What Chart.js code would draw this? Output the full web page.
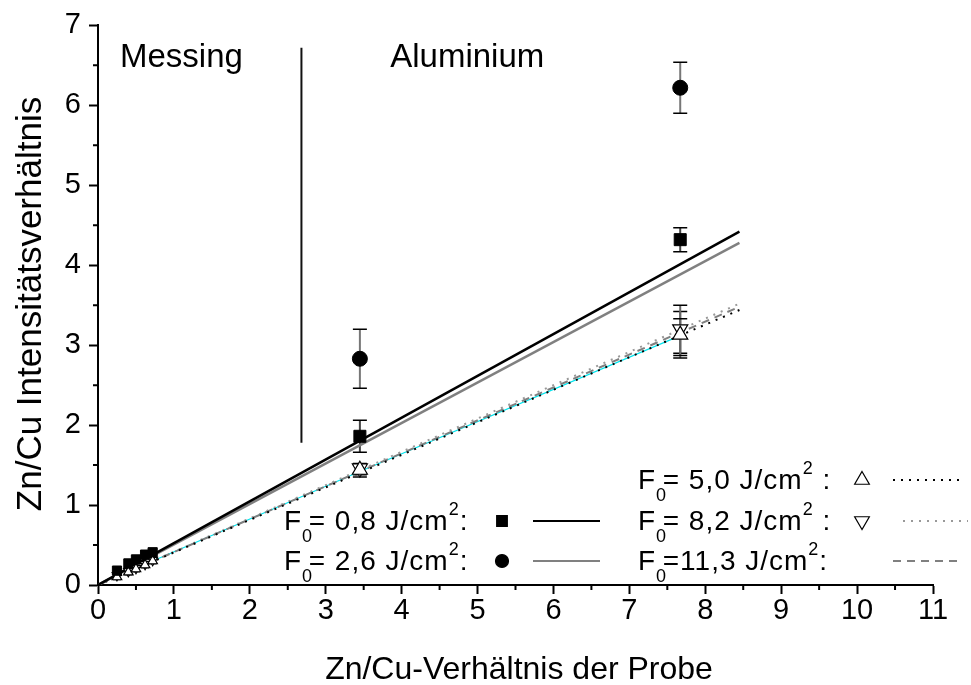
<!DOCTYPE html>
<html>
<head>
<meta charset="utf-8">
<script src="https://cdn.jsdelivr.net/npm/chart.js@4"></script>
<style>
  body { margin: 0; background: #fff; }
  canvas { display: block; }
</style>
</head>
<body>
<canvas id="chart" width="971" height="685"></canvas>
<script>
const FONT = '"Liberation Sans", Arial, sans-serif';

// sample Zn/Cu ratio: five Messing samples, two Aluminium samples
const sampleX = [0.25, 0.40, 0.50, 0.62, 0.72, 3.45, 7.67];

// measured intensity ratio per fluence, with errors
const f08Y   = [0.18, 0.27, 0.32, 0.38, 0.41, 1.86, 4.32];
const f08Err = [0.04, 0.04, 0.04, 0.04, 0.04, 0.20, 0.15];
const f26Y   = [0.17, 0.26, 0.31, 0.37, 0.40, 2.83, 6.22];
const f26Err = [0.04, 0.04, 0.04, 0.04, 0.04, 0.37, 0.32];
const f50Y   = [0.10, 0.16, 0.20, 0.25, 0.30, 1.44, 3.13];
const f50Err = [0.03, 0.03, 0.03, 0.03, 0.03, 0.06, 0.29];
const f82Y   = [0.12, 0.17, 0.21, 0.26, 0.31, 1.46, 3.20];
const f82Err = [0.03, 0.03, 0.03, 0.03, 0.03, 0.06, 0.30];
const f113Y  = [0.11, 0.16, 0.20, 0.25, 0.30, 1.43, 3.10];
const f113Err= [0.03, 0.03, 0.03, 0.03, 0.03, 0.08, 0.23];

// linear fits through the origin (end points)
const fitX   = [0, 8.45];
const fit08  = [0, 4.42];
const fit26  = [0, 4.28];
const fit50  = [0, 3.44];
const fit82  = [0, 3.52];
const fit113 = [0, 3.48];

// connecting line of the 5,0 J/cm² points
const cyanX = [0.72, 3.45, 7.67];
const cyanY = [0.30, 1.42, 3.12];

// separator between Messing and Aluminium
const sepX = [2.68, 2.68];
const sepY = [1.78, 6.72];

const xTicks = [0, 1, 2, 3, 4, 5, 6, 7, 8, 9, 10, 11];
const yTicks = [0, 1, 2, 3, 4, 5, 6, 7];

const pts = (xs, ys) => xs.map((x, i) => ({ x: x, y: ys[i] }));
const small = (big, sm) => sampleX.map(x => x < 1 ? sm : big);

const errorBars = {
  id: 'errorBars',
  beforeDatasetsDraw(chart) {
    const { ctx, scales: { x, y } } = chart;
    chart.data.datasets.forEach(ds => {
      if (!ds.errors) return;
      ds.data.forEach((p, i) => {
        const e = ds.errors[i];
        const px = x.getPixelForValue(p.x);
        const top = y.getPixelForValue(p.y + e);
        const bot = y.getPixelForValue(p.y - e);
        const w = p.x < 1 ? 4 : 7;
        ctx.save();
        ctx.strokeStyle = ds.errorColor;
        ctx.lineWidth = 2;
        ctx.beginPath();
        ctx.moveTo(px, top);
        ctx.lineTo(px, bot);
        ctx.stroke();
        ctx.strokeStyle = '#000';
        ctx.lineWidth = 1.5;
        ctx.beginPath();
        ctx.moveTo(px - w, top); ctx.lineTo(px + w, top);
        ctx.moveTo(px - w, bot); ctx.lineTo(px + w, bot);
        ctx.stroke();
        ctx.restore();
      });
    });
  }
};

function richText(ctx, x, y, parts, size) {
  parts.forEach(p => {
    const s = (p.sub || p.sup) ? Math.round(size * 0.63) : size;
    ctx.font = s + 'px ' + FONT;
    const dy = p.sub ? size * 0.42 : p.sup ? -size * 0.55 : 0;
    ctx.fillText(p.t, x, y + dy);
    const w = ctx.measureText(p.t).width;
    x += p.sub ? w * 0.6 : w;
  });
}

const legendRows = [
  { col: 0, row: 1, label: '= 0,8 J/cm', tail: ':', point: 'rect', rot: 0, radius: 7.5, dash: [], color: '#000' },
  { col: 0, row: 2, label: '= 2,6 J/cm', tail: ':', point: 'circle', rot: 0, radius: 6.5, dash: [], color: '#808080' },
  { col: 1, row: 0, label: '= 5,0 J/cm', tail: ' :', point: 'triangle', rot: 0, radius: 8.5, dash: [2, 6], color: '#000' },
  { col: 1, row: 1, label: '= 8,2 J/cm', tail: ' :', point: 'triangle', rot: 180, radius: 8.5, dash: [2, 6], color: '#999' },
  { col: 1, row: 2, label: '=11,3 J/cm', tail: ':', point: null, rot: 0, radius: 0, dash: [8, 6], color: '#808080' }
];

const annotations = {
  id: 'annotations',
  afterDraw(chart) {
    const { ctx, scales: { x, y } } = chart;
    ctx.save();
    ctx.fillStyle = '#000';
    ctx.strokeStyle = '#000';

    // minor ticks
    ctx.lineWidth = 2;
    ctx.beginPath();
    for (let v = 0.5; v < 11; v += 1) {
      const px = x.getPixelForValue(v);
      ctx.moveTo(px, y.bottom); ctx.lineTo(px, y.bottom + 5);
    }
    for (let v = 0.5; v < 7; v += 1) {
      const py = y.getPixelForValue(v);
      ctx.moveTo(x.left, py); ctx.lineTo(x.left - 5, py);
    }
    ctx.stroke();

    // axis titles
    ctx.textAlign = 'center';
    ctx.textBaseline = 'alphabetic';
    ctx.font = '32px ' + FONT;
    ctx.fillText('Zn/Cu-Verhältnis der Probe', 519, 679);
    ctx.save();
    ctx.translate(41, 304);
    ctx.rotate(-Math.PI / 2);
    ctx.font = '35px ' + FONT;
    ctx.fillText('Zn/Cu Intensitätsverhältnis', 0, 0);
    ctx.restore();

    // region labels
    ctx.textAlign = 'left';
    ctx.font = '33px ' + FONT;
    ctx.fillText('Messing', x.getPixelForValue(0.29), y.getPixelForValue(6.48));
    ctx.fillText('Aluminium', x.getPixelForValue(3.85), y.getPixelForValue(6.48));

    // legend
    const colX = [284, 638];
    const rowY = [489, 530, 570];
    const mkX = [502, 862];
    const lnX = [[533, 600], [893, 962]];
    ctx.letterSpacing = '1px';
    legendRows.forEach(r => {
      const tx = colX[r.col], ty = rowY[r.row];
      ctx.fillStyle = '#000';
      richText(ctx, tx, ty, [{ t: 'F' }, { t: '0', sub: true }, { t: r.label }, { t: '2', sup: true }, { t: r.tail }], 28);
      const my = ty - 9;
      if (r.point) {
        ctx.fillStyle = r.point === 'triangle' ? '#fff' : '#000';
        ctx.strokeStyle = '#000';
        ctx.lineWidth = 1.2;
        Chart.helpers.drawPoint(ctx, { pointStyle: r.point, rotation: r.rot, radius: r.radius, borderWidth: 1.2 }, mkX[r.col], my);
      }
      ctx.strokeStyle = r.color;
      ctx.lineWidth = 2;
      ctx.setLineDash(r.dash);
      ctx.beginPath();
      const lx = (r.col === 1 && r.row === 1) ? [903, 968] : lnX[r.col];
      ctx.moveTo(lx[0], my); ctx.lineTo(lx[1], my);
      ctx.stroke();
      ctx.setLineDash([]);
    });
    ctx.restore();
  }
};

const lineDs = (xs, ys, color, dash, width) => ({
  data: pts(xs, ys), showLine: true, borderColor: color, borderDash: dash,
  borderWidth: width, pointRadius: 0, fill: false
});

new Chart(document.getElementById('chart'), {
  type: 'scatter',
  data: {
    datasets: [
      { data: pts(sampleX, f08Y), errors: f08Err, errorColor: '#444',
        pointStyle: 'rect', pointRadius: small(8.5, 6.5), backgroundColor: '#000', borderColor: '#000' },
      { data: pts(sampleX, f26Y), errors: f26Err, errorColor: '#777',
        pointStyle: 'circle', pointRadius: small(7.5, 3.5), backgroundColor: '#000', borderColor: '#000' },
      { data: pts(sampleX, f50Y), errors: f50Err, errorColor: '#666',
        pointStyle: 'triangle', pointRadius: small(8.7, 5.5), backgroundColor: '#fff', borderColor: '#000', borderWidth: 1.2 },
      { data: pts(sampleX, f82Y), errors: f82Err, errorColor: '#666',
        pointStyle: 'triangle', rotation: 180, pointRadius: small(8.7, 5.5), backgroundColor: '#fff', borderColor: '#000', borderWidth: 1.2 },
      { data: pts(sampleX, f113Y), errors: f113Err, errorColor: '#666', pointRadius: 0 },
      lineDs(fitX, fit08, '#000', [], 2.5),
      lineDs(fitX, fit26, '#808080', [], 2.5),
      lineDs(fitX, fit50, '#000', [2, 6], 2),
      lineDs(fitX, fit82, '#999', [2, 6], 2),
      lineDs(fitX, fit113, '#808080', [8, 6], 2),
      lineDs(cyanX, cyanY, '#00e5ee', [], 1.2),
      lineDs(sepX, sepY, '#111', [], 2)
    ]
  },
  options: {
    responsive: false,
    animation: false,
    events: [],
    layout: { padding: { top: 25, right: 38, left: 0, bottom: 0 } },
    plugins: { legend: { display: false }, tooltip: { enabled: false } },
    scales: {
      x: {
        type: 'linear', min: 0, max: 11,
        afterFit: s => { s.height = 100; },
        afterBuildTicks: s => { s.ticks = xTicks.map(v => ({ value: v })); },
        ticks: { color: '#000', font: { size: 29, family: FONT }, padding: 0, maxRotation: 0 },
        grid: { drawOnChartArea: false, tickLength: 9, tickWidth: 2, tickColor: '#000' },
        border: { color: '#000', width: 2 }
      },
      y: {
        type: 'linear', min: 0, max: 7,
        afterFit: s => { s.width = 98; },
        afterBuildTicks: s => { s.ticks = yTicks.map(v => ({ value: v })); },
        ticks: { color: '#000', font: { size: 29, family: FONT }, padding: 8 },
        grid: { drawOnChartArea: false, tickLength: 9, tickWidth: 2, tickColor: '#000' },
        border: { color: '#000', width: 2 }
      }
    }
  },
  plugins: [errorBars, annotations]
});
</script>
</body>
</html>
